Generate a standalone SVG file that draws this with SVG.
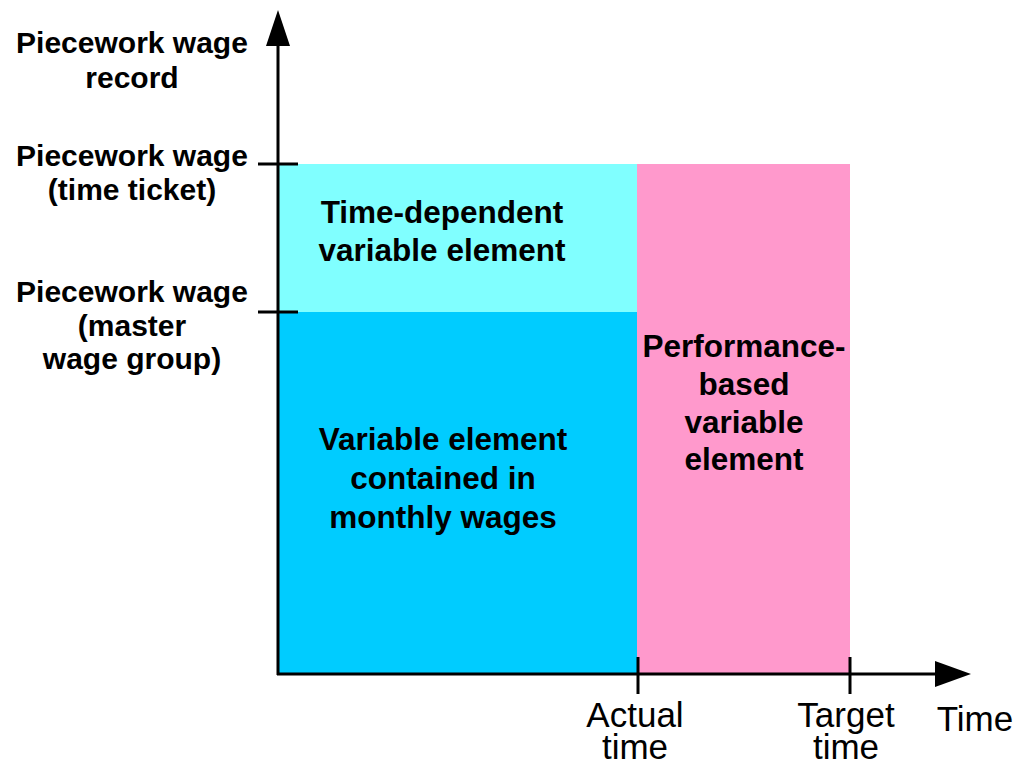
<svg xmlns="http://www.w3.org/2000/svg" width="1016" height="761" viewBox="0 0 1016 761">
<style>
.lbl{font-family:"Liberation Sans",Arial,sans-serif;font-weight:bold;font-size:30px;fill:#000;text-anchor:middle}
.big{font-size:31.5px}
.reg{font-family:"Liberation Sans",Arial,sans-serif;font-size:35px;fill:#000;text-anchor:middle}
.ax{stroke:#000;stroke-width:3;fill:none}
</style>
<rect width="1016" height="761" fill="#fff"/>
<g id="time-dependent">
<rect x="279" y="164" width="358" height="148" fill="#80FFFF"/>
<text class="lbl big" x="442" y="223">Time-dependent</text>
<text class="lbl big" x="442" y="261">variable element</text>
</g>
<g id="monthly">
<rect x="279" y="312" width="358" height="362" fill="#00CCFF"/>
<text class="lbl big" x="443" y="450">Variable element</text>
<text class="lbl big" x="443" y="489">contained in</text>
<text class="lbl big" x="443" y="528">monthly wages</text>
</g>
<g id="performance">
<rect x="637" y="164" width="213" height="510" fill="#FF99CC"/>
<text class="lbl big" x="744" y="357">Performance-</text>
<text class="lbl big" x="744" y="395">based</text>
<text class="lbl big" x="744" y="433">variable</text>
<text class="lbl big" x="744" y="470">element</text>
</g>
<g id="y-labels">
<text class="lbl" x="132" y="53">Piecework wage</text>
<text class="lbl" x="132" y="88">record</text>
<text class="lbl" x="132" y="166">Piecework wage</text>
<text class="lbl" x="132" y="200">(time ticket)</text>
<text class="lbl" x="132" y="302">Piecework wage</text>
<text class="lbl" x="132" y="336">(master</text>
<text class="lbl" x="132" y="369">wage group)</text>
</g>
<g id="x-labels">
<text class="reg" x="635" y="727">Actual</text>
<text class="reg" x="635" y="759">time</text>
<text class="reg" x="846" y="727">Target</text>
<text class="reg" x="846" y="759">time</text>
<text class="reg" x="975" y="731">Time</text>
</g>
<g id="connectors">
<line class="ax" x1="278" y1="675" x2="278" y2="40"/>
<polygon points="278,10 266,46 290,46" fill="#000"/>
<line class="ax" x1="277" y1="674" x2="940" y2="674"/>
<polygon points="971,674 935,661 935,687" fill="#000"/>
<line class="ax" x1="258" y1="164" x2="298" y2="164"/>
<line class="ax" x1="258" y1="312" x2="298" y2="312"/>
<line class="ax" x1="638" y1="657" x2="638" y2="694"/>
<line class="ax" x1="850" y1="657" x2="850" y2="694"/>
</g>
</svg>
